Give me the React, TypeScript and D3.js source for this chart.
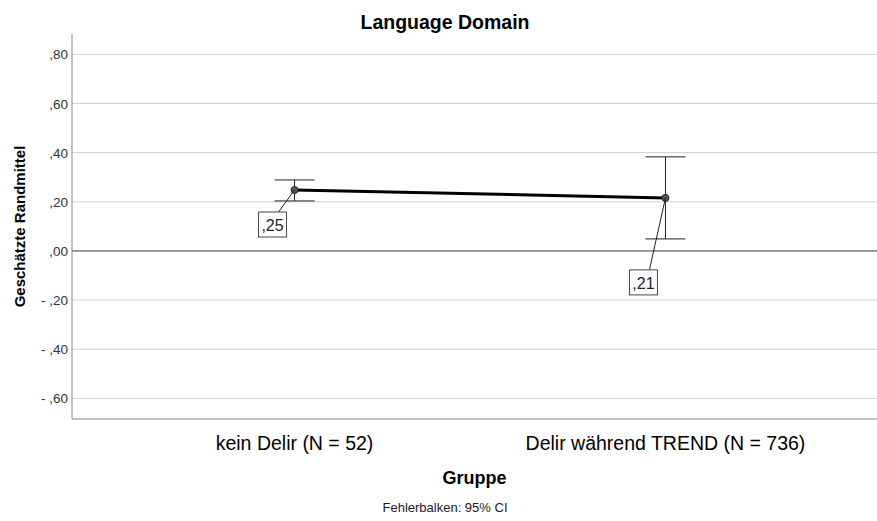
import React from "react";
import * as d3 from "d3";

const groups = ["kein Delir (N = 52)", "Delir während TREND (N = 736)"];
const means = [0.248, 0.216];
const lower = [0.2035, 0.049];
const upper = [0.289, 0.383];
const valueLabels = [",25", ",21"];
const yTicks = [0.8, 0.6, 0.4, 0.2, 0, -0.2, -0.4, -0.6];

const W = 877;
const H = 521;
const left = 72;
const right = 888;
const top = 34;
const bottom = 419;

const fmt = (v: number) => {
  const s = Math.abs(v).toFixed(2).replace(/^0/, "").replace(".", ",");
  return v < 0 ? "- " + s : s;
};

export default function App() {
  const x = d3.scalePoint<string>().domain(groups).range([left, right]).padding(0.6);
  const y = d3.scaleLinear().domain([-0.684, 0.883]).range([bottom, top]);
  const line = d3
    .line<number>()
    .x((_, i) => x(groups[i]) as number)
    .y((d) => y(d));

  const font = "'Liberation Sans', Arial, sans-serif";
  const labelOffsets = [
    { dx: -22, dy: 35 },
    { dx: -22, dy: 85 },
  ];

  return (
    <svg width={W} height={H} style={{ position: "absolute", left: 0, top: 0, background: "#fff" }} fontFamily={font}>
      <text x={445} y={29} textAnchor="middle" fontSize={19.5} fontWeight="bold" fill="#000">
        Language Domain
      </text>
      {yTicks.map((t) => (
        <g key={t}>
          <line x1={left} x2={W} y1={y(t)} y2={y(t)} stroke={t === 0 ? "#333" : "#cfcfcf"} strokeWidth={1} />
          <text x={left - 4} y={y(t) + 5} textAnchor="end" fontSize={13.5} fill="#333">
            {fmt(t)}
          </text>
        </g>
      ))}
      <line x1={left} x2={left} y1={top} y2={bottom} stroke="#888" />
      <line x1={left} x2={W} y1={bottom} y2={bottom} stroke="#888" />
      <text transform={`translate(25,${(top + bottom) / 2}) rotate(-90)`} textAnchor="middle" fontSize={15} fontWeight="bold" fill="#000">
        Geschätzte Randmittel
      </text>
      {groups.map((g, i) => {
        const cx = x(g) as number;
        return (
          <g key={g}>
            <line x1={cx} x2={cx} y1={y(upper[i])} y2={y(lower[i])} stroke="#222" strokeWidth={1} />
            <line x1={cx - 20} x2={cx + 20} y1={y(upper[i])} y2={y(upper[i])} stroke="#222" strokeWidth={1} />
            <line x1={cx - 20} x2={cx + 20} y1={y(lower[i])} y2={y(lower[i])} stroke="#222" strokeWidth={1} />
          </g>
        );
      })}
      <path d={line(means) ?? ""} fill="none" stroke="#000" strokeWidth={3} />
      {groups.map((g, i) => {
        const cx = x(g) as number;
        const cy = y(means[i]);
        const bx = cx + labelOffsets[i].dx;
        const by = cy + labelOffsets[i].dy;
        return (
          <g key={g + "p"}>
            <circle cx={cx} cy={cy} r={3.5} fill="#555" stroke="#222" strokeWidth={1} />
            <line x1={cx} y1={cy} x2={bx + 6} y2={by - 13} stroke="#222" strokeWidth={1} />
            <rect x={bx - 14} y={by - 13} width={28} height={25} fill="#fff" stroke="#444" strokeWidth={1} />
            <text x={bx} y={by + 6} textAnchor="middle" fontSize={16} fill="#222">
              {valueLabels[i]}
            </text>
          </g>
        );
      })}
      {groups.map((g) => (
        <text key={g + "t"} x={x(g) as number} y={450} textAnchor="middle" fontSize={19.5} fill="#000">
          {g}
        </text>
      ))}
      <text x={(left + W) / 2} y={484} textAnchor="middle" fontSize={18} fontWeight="bold" fill="#000">
        Gruppe
      </text>
      <text x={445} y={512} textAnchor="middle" fontSize={13} fill="#222">
        Fehlerbalken: 95% CI
      </text>
    </svg>
  );
}
